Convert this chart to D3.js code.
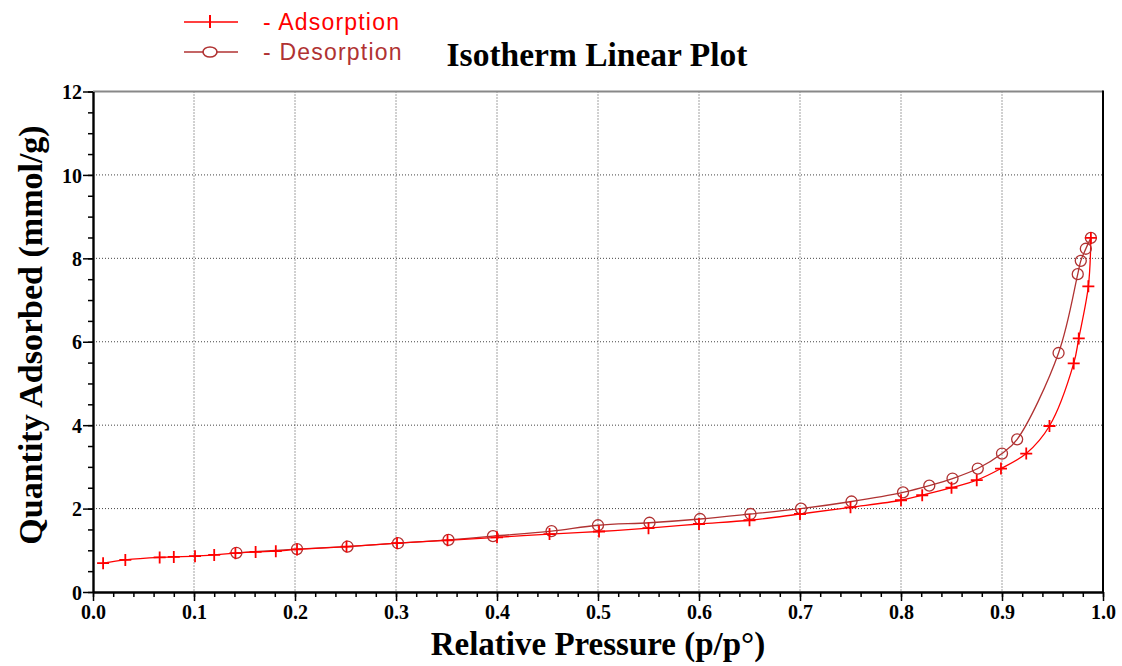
<!DOCTYPE html>
<html>
<head>
<meta charset="utf-8">
<script src="https://cdn.jsdelivr.net/npm/d3@7"></script>
<style>
  html, body { margin: 0; padding: 0; background: #fff; }
  svg { display: block; }
</style>
</head>
<body>
<div id="chart"><svg width="1122" height="666"></svg></div>
<script>
// relative pressure / quantity adsorbed
const adsP = [0.010, 0.032, 0.066, 0.080, 0.101, 0.120, 0.141, 0.161, 0.181, 0.202,
  0.251, 0.301, 0.351, 0.400, 0.452, 0.501, 0.550, 0.600, 0.650, 0.700,
  0.750, 0.800, 0.821, 0.850, 0.875, 0.899, 0.924, 0.947, 0.971, 0.976, 0.9855, 0.988];
const adsQ = [0.69, 0.77, 0.83, 0.84, 0.86, 0.89, 0.93, 0.96, 0.98, 1.02,
  1.09, 1.17, 1.24, 1.31, 1.39, 1.45, 1.53, 1.63, 1.72, 1.87,
  2.03, 2.20, 2.32, 2.50, 2.68, 2.96, 3.32, 3.98, 5.48, 6.08, 7.33, 8.49];

const desP = [0.988, 0.983, 0.978, 0.975, 0.956, 0.915, 0.900, 0.876, 0.851, 0.828,
  0.802, 0.751, 0.701, 0.651, 0.601, 0.551, 0.500, 0.454, 0.396, 0.352,
  0.302, 0.252, 0.202, 0.142];
const desQ = [8.49, 8.23, 7.94, 7.62, 5.73, 3.66, 3.32, 2.96, 2.72, 2.55,
  2.39, 2.17, 2.00, 1.87, 1.75, 1.66, 1.60, 1.46, 1.34, 1.25,
  1.17, 1.09, 1.03, 0.94];

const seriesNames = ['Adsorption', 'Desorption'];
const xTicks = [0, 0.1, 0.2, 0.3, 0.4, 0.5, 0.6, 0.7, 0.8, 0.9, 1.0];
const yTicks = [0, 2, 4, 6, 8, 10, 12];

const ADS_COLOR = '#ff0000';
const DES_COLOR = '#b03232';

const SVG = d3.select('#chart svg');
const LEFT = 93, RIGHT = 1103, TOP = 91.5, BOTTOM = 592;

const X = d3.scaleLinear().domain([0, 1]).range([LEFT, RIGHT]);
const Y = d3.scaleLinear().domain([0, 12]).range([BOTTOM, TOP]);

const ads = adsP.map((p, i) => ({ p, q: adsQ[i] }));
const des = desP.map((p, i) => ({ p, q: desQ[i] })).sort((a, b) => a.p - b.p);

// grid
const GRID = SVG.append('g');
GRID.selectAll('.gx')
  .data(xTicks.slice(1, -1))
  .join('line')
  .attr('x1', (d) => X(d)).attr('x2', (d) => X(d))
  .attr('y1', TOP).attr('y2', BOTTOM);
GRID.selectAll('.gy')
  .data(yTicks.slice(1))
  .join('line')
  .attr('x1', LEFT).attr('x2', RIGHT)
  .attr('y1', (d) => Y(d)).attr('y2', (d) => Y(d));
GRID.selectAll('line')
  .attr('stroke', '#444')
  .attr('stroke-width', 1)
  .attr('stroke-dasharray', '1,2');

// frame: top grey, right black
SVG.append('line')
  .attr('x1', LEFT).attr('x2', RIGHT).attr('y1', TOP).attr('y2', TOP)
  .attr('stroke', '#888').attr('stroke-width', 2);
SVG.append('line')
  .attr('x1', RIGHT).attr('x2', RIGHT).attr('y1', TOP - 1).attr('y2', BOTTOM)
  .attr('stroke', '#000').attr('stroke-width', 2);

// axes
const minorX = d3.range(0, 1.0001, 0.02);
const minorY = d3.range(0, 12.0001, 0.5);

SVG.append('g')
  .attr('transform', `translate(0, ${BOTTOM})`)
  .call(d3.axisBottom(X).tickValues(minorX).tickSize(5).tickFormat(''))
  .call((g) => g.select('.domain').remove());
SVG.append('g')
  .attr('transform', `translate(${LEFT}, 0)`)
  .call(d3.axisLeft(Y).tickValues(minorY).tickSize(5).tickFormat(''))
  .call((g) => g.select('.domain').remove());

const XAXIS = SVG.append('g')
  .attr('transform', `translate(0, ${BOTTOM})`)
  .call(d3.axisBottom(X).tickValues(xTicks).tickSize(9).tickSizeOuter(0).tickPadding(4)
    .tickFormat(d3.format('.1f')));
const YAXIS = SVG.append('g')
  .attr('transform', `translate(${LEFT}, 0)`)
  .call(d3.axisLeft(Y).tickValues(yTicks).tickSize(10).tickSizeOuter(0).tickPadding(1)
    .tickFormat(d3.format('d')));

SVG.selectAll('.tick line').attr('stroke', '#000').attr('stroke-width', 1.5);
[XAXIS, YAXIS].forEach((a) => {
  a.select('.domain').attr('stroke-width', 2.4);
  a.selectAll('text')
    .style('font-family', '"Liberation Serif", "Times New Roman", serif')
    .style('font-weight', 'bold')
    .style('font-size', '20px')
    .attr('fill', '#000');
});
YAXIS.selectAll('text').attr('dy', '0.36em');

// curves
const line = d3.line()
  .x((d) => X(d.p))
  .y((d) => Y(d.q))
  .curve(d3.curveCatmullRom.alpha(0.5));

SVG.append('path')
  .datum(des)
  .attr('d', line)
  .attr('fill', 'none')
  .attr('stroke', DES_COLOR)
  .attr('stroke-width', 1.3);
SVG.append('path')
  .datum(ads)
  .attr('d', line)
  .attr('fill', 'none')
  .attr('stroke', ADS_COLOR)
  .attr('stroke-width', 1.3);

// markers
SVG.append('g')
  .selectAll('circle')
  .data(des)
  .join('circle')
  .attr('cx', (d) => X(d.p))
  .attr('cy', (d) => Y(d.q))
  .attr('r', 5.5)
  .attr('fill', 'none')
  .attr('stroke', DES_COLOR)
  .attr('stroke-width', 1.3);

SVG.append('g')
  .selectAll('path')
  .data(ads)
  .join('path')
  .attr('d', (d) => {
    const cx = X(d.p), cy = Y(d.q);
    return `M${cx - 6},${cy}H${cx + 6}M${cx},${cy - 6}V${cy + 6}`;
  })
  .attr('stroke', ADS_COLOR)
  .attr('stroke-width', 1.8);

// legend
const LEGEND = SVG.append('g');
seriesNames.forEach((name, i) => {
  const y = 22 + i * 30;
  const color = i === 0 ? ADS_COLOR : DES_COLOR;
  LEGEND.append('line')
    .attr('x1', 184).attr('x2', 238).attr('y1', y).attr('y2', y)
    .attr('stroke', color).attr('stroke-width', 1.6);
  if (i === 0) {
    LEGEND.append('line')
      .attr('x1', 210).attr('x2', 210).attr('y1', y - 7).attr('y2', y + 6)
      .attr('stroke', color).attr('stroke-width', 2);
  } else {
    LEGEND.append('ellipse')
      .attr('cx', 210).attr('cy', y).attr('rx', 7).attr('ry', 5)
      .attr('fill', '#fff').attr('stroke', color).attr('stroke-width', 1.6);
  }
  LEGEND.append('text')
    .text(`- ${name}`)
    .attr('x', 263)
    .attr('y', y + 8)
    .attr('fill', color)
    .style('font-family', '"Liberation Sans", Arial, sans-serif')
    .style('font-size', '23px')
    .style('letter-spacing', '1.2px');
});

// titles
const SERIF = '"Liberation Serif", "Times New Roman", serif';
SVG.append('text')
  .text('Isotherm Linear Plot')
  .attr('x', 597).attr('y', 66)
  .attr('text-anchor', 'middle')
  .style('font-family', SERIF).style('font-weight', 'bold').style('font-size', '33.5px');
SVG.append('text')
  .text('Relative Pressure (p/p°)')
  .attr('x', 598).attr('y', 655)
  .attr('text-anchor', 'middle')
  .style('font-family', SERIF).style('font-weight', 'bold').style('font-size', '33px');
SVG.append('text')
  .text('Quantity Adsorbed (mmol/g)')
  .attr('transform', 'translate(42, 335) rotate(-90)')
  .attr('text-anchor', 'middle')
  .style('font-family', SERIF).style('font-weight', 'bold').style('font-size', '34px');
</script>
</body>
</html>
